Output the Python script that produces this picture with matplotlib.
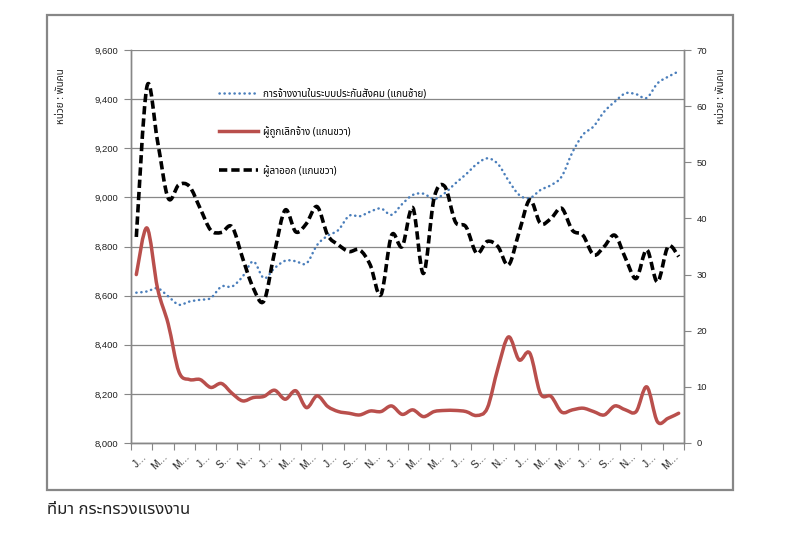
import matplotlib
matplotlib.use('Agg')
import matplotlib.pyplot as plt
import numpy as np
from matplotlib import font_manager
from matplotlib.patches import Rectangle, PathPatch
from matplotlib.path import Path
from matplotlib.lines import Line2D


def find_thai_font():
    """Return the name of an installed font that has Thai glyphs (or None)"""
    try:
        from fontTools.ttLib import TTFont
    except ImportError:
        return None
    found = []
    for f in font_manager.fontManager.ttflist:
        try:
            tt = TTFont(f.fname, fontNumber=0, lazy=True)
            cmap = tt.getBestCmap()
        except Exception:
            continue
        if cmap and 0x0E01 in cmap and 0x0E49 in cmap:
            found.append(f.name)
    if not found:
        return None
    for pref in ['Tahoma', 'Noto Sans Thai', 'Loma', 'Garuda', 'Sarabun', 'DejaVu Sans']:
        if pref in found:
            return pref
    return found[0]


def smooth_path(xs, ys):
    """Excel-style smoothed line: cubic Bezier through every data point"""
    p = np.column_stack([xs, ys]).astype(float)
    n = len(p)
    verts = [p[0]]
    codes = [Path.MOVETO]
    for i in range(n - 1):
        prev = p[i - 1] if i > 0 else p[i]
        nxt = p[i + 2] if i + 2 < n else p[i + 1]
        c1 = p[i] + (p[i + 1] - prev) / 6
        c2 = p[i + 1] - (nxt - p[i]) / 6
        verts += [c1, c2, p[i + 1]]
        codes += [Path.CURVE4] * 3
    return Path(verts, codes)


thai = find_thai_font()
thai_family = [thai, 'DejaVu Sans'] if thai else ['DejaVu Sans']
latin = 'Liberation Sans'

# monthly data, 52 months
employment = [8612, 8617, 8630, 8597, 8563, 8576, 8583, 8590, 8637, 8637,
              8678, 8739, 8671, 8712, 8742, 8740, 8731, 8806, 8844, 8867,
              8925, 8923, 8942, 8955, 8929, 8973, 9010, 9015, 8993, 9017,
              9057, 9094, 9135, 9159, 9136, 9068, 9010, 8997, 9030, 9050,
              9085, 9183, 9255, 9289, 9349, 9390, 9424, 9420, 9405, 9464,
              9491, 9513]
laid_off = [30.0, 38.3, 27.5, 21.2, 12.7, 11.3, 11.3, 9.9, 10.6, 8.85,
            7.5, 8.1, 8.3, 9.4, 7.8, 9.3, 6.3, 8.4, 6.5, 5.6,
            5.3, 5.0, 5.7, 5.6, 6.6, 5.1, 5.9, 4.7, 5.6, 5.8,
            5.8, 5.6, 4.9, 6.2, 13.3, 18.9, 14.8, 16.0, 8.8, 8.3,
            5.5, 5.9, 6.2, 5.6, 5.0, 6.6, 5.9, 5.6, 10.0, 3.8,
            4.4, 5.3]
resigned = [36.7, 63.5, 53.7, 43.6, 46.0, 45.7, 41.8, 37.9, 37.5, 38.5,
            32.9, 27.6, 25.3, 34.0, 41.5, 37.6, 39.1, 42.1, 37.0, 35.3,
            34.1, 34.4, 31.7, 26.4, 37.0, 35.0, 41.9, 30.2, 43.6, 45.7,
            39.4, 38.5, 33.8, 35.9, 35.0, 31.7, 37.6, 43.3, 39.1, 40.0,
            41.8, 37.9, 37.0, 33.5, 35.0, 37.0, 32.9, 29.3, 34.4, 28.7,
            35.0, 33.2]

month_labels = ['J…', 'M…', 'M…', 'J…', 'S…', 'N…'] * 4 + ['J…', 'M…']
left_ticks = [8000, 8200, 8400, 8600, 8800, 9000, 9200, 9400, 9600]
right_ticks = [0, 10, 20, 30, 40, 50, 60, 70]

labels = ['การจ้างงานในระบบประกันสังคม (แกนซ้าย)',
          'ผู้ถูกเลิกจ้าง (แกนขวา)',
          'ผู้ลาออก (แกนขวา)']
unit_label = 'หน่วย : พันคน'
source = 'ที่มา กระทรวงแรงงาน'

gray = '#878787'
blue = '#4a7ebb'
red = '#b94f4c'
text_c = '#222222'

styles = [
    dict(color=blue, linewidth=1.8, linestyle=(0, (0.1, 1.9)), capstyle='round'),
    dict(color=red, linewidth=2.5, linestyle='-', capstyle='round'),
    dict(color='black', linewidth=2.6, linestyle=(0, (2.3, 1.1)), capstyle='butt'),
]

fig = plt.figure(figsize=(7.92, 5.44), dpi=100)
ax = fig.add_axes([131 / 792, 1 - 443 / 544, (684 - 131) / 792, (443 - 50) / 544])
ax2 = ax.twinx()

x = np.arange(len(employment))

for a, ys, st in [(ax, employment, styles[0]), (ax2, laid_off, styles[1]), (ax2, resigned, styles[2])]:
    patch = PathPatch(smooth_path(x, ys), fill=False, edgecolor=st['color'],
                      linewidth=st['linewidth'], linestyle=st['linestyle'],
                      capstyle=st['capstyle'], joinstyle='round')
    a.add_patch(patch)

handles = [Line2D([], [], color=st['color'], linewidth=st['linewidth'],
                  linestyle=st['linestyle'], dash_capstyle=st['capstyle'])
           for st in styles]

ax.set_xlim(-0.5, len(x) - 0.5)
ax.set_ylim(8000, 9600)
ax2.set_ylim(0, 70)

ax.set_yticks(left_ticks)
ax.set_yticklabels([f'{v:,}' for v in left_ticks], fontfamily=latin, fontsize=6.8, color=text_c)
ax2.set_yticks(right_ticks)
ax2.set_yticklabels([str(v) for v in right_ticks], fontfamily=latin, fontsize=6.8, color=text_c)

# tick marks between every two months, labels centred in each pair
ax.set_xticks(np.arange(-0.5, len(x), 2))
ax.set_xticklabels([])
ax.set_xticks(np.arange(0.5, len(x), 2), minor=True)
ax.set_xticklabels(month_labels, minor=True, rotation=45, ha='right',
                   rotation_mode='anchor', fontfamily=latin, fontsize=7.3, color=text_c)
ax.tick_params(axis='x', which='major', length=5, color=gray, direction='out')
ax.tick_params(axis='x', which='minor', length=0, pad=6)
ax.tick_params(axis='y', length=5, color=gray, pad=4)
ax2.tick_params(axis='y', length=5, color=gray, pad=4)

ax.grid(axis='y', color=gray, linewidth=0.9)
ax.set_axisbelow(True)
for a in (ax, ax2):
    a.spines['top'].set_visible(False)
    for s in ['left', 'right', 'bottom']:
        a.spines[s].set_color(gray)
        a.spines[s].set_linewidth(1.0)

ax2.legend(handles, labels, loc='upper left',
           bbox_to_anchor=(219 / 792, 1 - 88 / 544), bbox_transform=fig.transFigure,
           frameon=False, borderpad=0, borderaxespad=0, handlelength=4.0,
           handletextpad=0.45, labelspacing=2.75,
           prop={'family': thai_family, 'size': 7.1})

fig.text(62 / 792, 1 - 96 / 544, unit_label, rotation=90, ha='center', va='center',
         family=thai_family, fontsize=7.2, color=text_c)
fig.text(721 / 792, 1 - 96 / 544, unit_label, rotation=90, ha='center', va='center',
         family=thai_family, fontsize=7.2, color=text_c)

# chart-area border
fig.patches.append(Rectangle((47 / 792, 1 - 490 / 544), (733 - 47) / 792, (490 - 15) / 544,
                             transform=fig.transFigure, fill=False,
                             edgecolor=gray, linewidth=1.6))

fig.text(47 / 792, 1 - 510 / 544, source, ha='left', va='center',
         family=thai_family, fontsize=12, color=text_c)

plt.savefig('out.png', dpi=100)
plt.close()
